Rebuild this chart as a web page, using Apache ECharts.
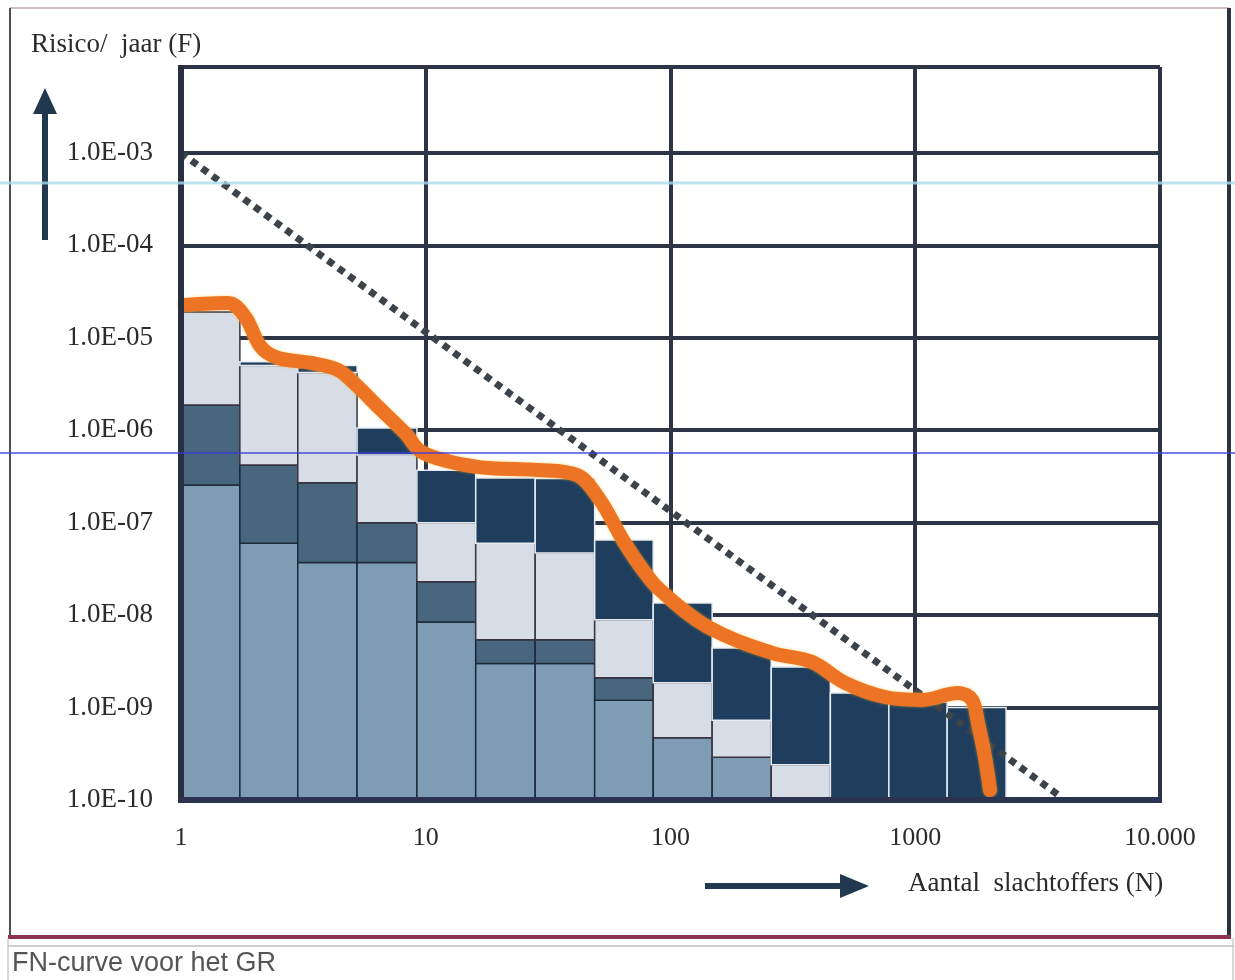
<!DOCTYPE html>
<html><head><meta charset="utf-8">
<script src="https://cdn.jsdelivr.net/npm/echarts@6/dist/echarts.min.js"></script>
<style>html,body{margin:0;padding:0;background:#fff;overflow:hidden}#c{width:1235px;height:980px}</style>
</head><body><div id="c"></div>
<script>
// ---- data ----
const binEdges = [1, 1.74, 3.0, 5.24, 9.2, 16, 28, 49, 85, 148, 258, 450, 780, 1350, 2350];
const baseF = 1e-10;
// cumulative top of each layer per bin (bottom -> top: mid blue, slate, light grey, navy)
const midTop   = [2.56e-7, 6.0e-8, 3.7e-8, 3.7e-8, 8.4e-9, 3.0e-9, 3.0e-9, 1.2e-9, 4.7e-10, 2.9e-10, 1e-10, 1e-10, 1e-10, 1e-10];
const slateTop = [1.88e-6, 4.2e-7, 2.7e-7, 1.0e-7, 2.3e-8, 5.4e-9, 5.4e-9, 2.1e-9, 4.7e-10, 2.9e-10, 1e-10, 1e-10, 1e-10, 1e-10];
const greyTop  = [1.9e-5, 5.0e-6, 4.2e-6, 5.4e-7, 1.0e-7, 6.0e-8, 4.7e-8, 8.9e-9, 1.85e-9, 7.3e-10, 2.4e-10, 1e-10, 1e-10, 1e-10];
const navyTop  = [1.9e-5, 5.5e-6, 5.0e-6, 1.06e-6, 3.7e-7, 3.05e-7, 3.0e-7, 6.5e-8, 1.35e-8, 4.4e-9, 2.75e-9, 1.44e-9, 1.15e-9, 1.0e-9];
// orange FN curve
const curveN = [1.04, 1.56, 1.83, 2.12, 2.49, 3.40, 4.38, 5.29, 6.38, 8.23, 9.75, 16.2, 28.5, 41.5, 51.5, 63.9, 77.2, 90.6, 142, 260, 379, 516, 752, 1066, 1496, 1706, 1804, 1927, 2020];
const curveF = [2.27e-5, 2.38e-5, 1.68e-5, 7.96e-6, 6.05e-6, 5.35e-6, 4.49e-6, 2.94e-6, 1.79e-6, 9.35e-7, 5.68e-7, 4.01e-7, 3.72e-7, 3.28e-7, 1.76e-7, 6.5e-8, 3.08e-8, 1.87e-8, 7.45e-9, 3.9e-9, 3.11e-9, 1.85e-9, 1.30e-9, 1.21e-9, 1.44e-9, 1.21e-9, 6.8e-10, 2.92e-10, 1.28e-10];
// dotted norm line
const limitN = [1, 3900];
const limitF = [1e-3, 1.1e-10];
// ticks
const xTickValues = [1, 10, 100, 1000, 10000];
const xTickLabels = ['1', '10', '100', '1000', '10.000'];
const yTickValues = [1e-10, 1e-9, 1e-8, 1e-7, 1e-6, 1e-5, 1e-4, 1e-3];
const yTickLabels = ['1.0E-10', '1.0E-09', '1.0E-08', '1.0E-07', '1.0E-06', '1.0E-05', '1.0E-04', '1.0E-03'];
const yMax = 0.0085;

// ---- build ----
const layerFill = ['#7f9cb5', '#48677f', '#d6dde6', '#1f3d5c'];
const layerStroke = ['#1c2a38', '#1c2a38', '#3a3440', '#e6ecf2'];
const segs = [];
for (let i = 0; i < binEdges.length - 1; i++) {
  const bounds = [baseF, midTop[i], slateTop[i], greyTop[i], navyTop[i]];
  for (let l = 0; l < 4; l++) {
    if (bounds[l + 1] > bounds[l] * 1.0001) segs.push([binEdges[i], binEdges[i + 1], bounds[l], bounds[l + 1], l]);
  }
}
function matchLabel(v, vals, labs) {
  for (let i = 0; i < vals.length; i++) if (Math.abs(Math.log10(v) - Math.log10(vals[i])) < 0.01) return labs[i];
  return '';
}
const serif = "'Liberation Serif', 'DejaVu Serif', serif";
const gridColor = '#2c3445';
const chart = echarts.init(document.getElementById('c'), null, {renderer: 'canvas'});
chart.setOption({
  animation: false,
  backgroundColor: '#ffffff',
  grid: {left: 181, right: 75, top: 67, bottom: 180, containLabel: false},
  xAxis: {
    type: 'log', logBase: 10, min: 1, max: 10000,
    axisLine: {show: false}, axisTick: {show: false},
    splitLine: {show: true, lineStyle: {color: gridColor, width: 4}},
    axisLabel: {margin: 25, fontFamily: serif, fontSize: 26, color: '#2b2b2b',
      formatter: v => matchLabel(v, xTickValues, xTickLabels)}
  },
  yAxis: {
    type: 'log', logBase: 10, min: 1e-10, max: yMax,
    axisLine: {show: false}, axisTick: {show: false},
    splitLine: {show: true, lineStyle: {color: gridColor, width: 4}},
    axisLabel: {margin: 28, fontFamily: serif, fontSize: 27, color: '#2b2b2b',
      formatter: v => matchLabel(v, yTickValues, yTickLabels)}
  },
  series: [
    {
      type: 'custom', name: 'bars', z: 3, clip: true,
      encode: {x: [0, 1], y: [2, 3]},
      data: segs,
      renderItem: function (params, api) {
        const p0 = api.coord([api.value(0), api.value(2)]);
        const p1 = api.coord([api.value(1), api.value(3)]);
        const l = api.value(4);
        return {type: 'rect', shape: {x: p0[0], y: p1[1], width: p1[0] - p0[0], height: p0[1] - p1[1]},
          style: {fill: layerFill[l], stroke: layerStroke[l], lineWidth: 1.5}};
      }
    },
    {
      type: 'line', name: 'norm', z: 4, symbol: 'none',
      data: limitN.map((n, i) => [n, limitF[i]]),
      lineStyle: {color: '#3d434b', width: 7, type: [7, 6], cap: 'butt'}
    },
    {
      type: 'line', name: 'FN', z: 5, symbol: 'none', smooth: 0.35,
      data: curveN.map((n, i) => [n, curveF[i]]),
      lineStyle: {color: '#ee7425', width: 14, cap: 'round', join: 'round',
        shadowColor: 'rgba(255,190,40,0.6)', shadowBlur: 3}
    },
    {
      type: 'custom', name: 'frame', z: 6, silent: true,
      encode: {x: [0, 2], y: [1, 3]},
      data: [[1, 1e-10, 10000, yMax]],
      renderItem: function (params, api) {
        const bl = api.coord([api.value(0), api.value(1)]);
        const tl = api.coord([api.value(0), api.value(3)]);
        const br = api.coord([api.value(2), api.value(1)]);
        return {type: 'group', children: [
          {type: 'line', shape: {x1: tl[0], y1: tl[1] - 2, x2: bl[0], y2: bl[1] + 2}, style: {stroke: '#27303f', lineWidth: 6}},
          {type: 'line', shape: {x1: bl[0] - 3, y1: bl[1], x2: br[0] + 2, y2: br[1]}, style: {stroke: '#2b3350', lineWidth: 6}}
        ]};
      }
    }
  ],
  graphic: [
    // outer border
    {type: 'line', shape: {x1: 10, y1: 8, x2: 1229, y2: 8}, style: {stroke: '#c9a3ad', lineWidth: 1.5}, z: 1},
    {type: 'line', shape: {x1: 10, y1: 8, x2: 10, y2: 936}, style: {stroke: '#4a4f58', lineWidth: 2}, z: 1},
    {type: 'line', shape: {x1: 1229, y1: 8, x2: 1229, y2: 936}, style: {stroke: '#2c3340', lineWidth: 4}, z: 1},
    {type: 'line', shape: {x1: 8, y1: 937, x2: 1231, y2: 937}, style: {stroke: '#8c3354', lineWidth: 4}, z: 1},
    {type: 'line', shape: {x1: 8, y1: 946, x2: 1233, y2: 946}, style: {stroke: '#9aa0a6', lineWidth: 1}, z: 1},
    {type: 'line', shape: {x1: 8, y1: 938, x2: 8, y2: 980}, style: {stroke: '#b0b4b8', lineWidth: 1}, z: 1},
    {type: 'line', shape: {x1: 1233, y1: 938, x2: 1233, y2: 980}, style: {stroke: '#b0b4b8', lineWidth: 1}, z: 1},
    // scan artefact lines
    {type: 'line', shape: {x1: 0, y1: 183, x2: 1235, y2: 183}, style: {stroke: 'rgba(170,220,235,0.8)', lineWidth: 3}, z: 20, silent: true},
    {type: 'line', shape: {x1: 0, y1: 453, x2: 1235, y2: 453}, style: {stroke: 'rgba(60,60,220,0.9)', lineWidth: 1.5}, z: 20, silent: true},
    // y title + arrow
    {type: 'text', left: 31, top: 31, style: {text: 'Risico/  jaar (F)', font: "27px 'Liberation Serif', serif", fill: '#2b2b2b'}, z: 10},
    {type: 'line', shape: {x1: 45, y1: 240, x2: 45, y2: 108}, style: {stroke: '#22384f', lineWidth: 6}, z: 10},
    {type: 'polygon', shape: {points: [[45, 88], [33, 114], [57, 114]]}, style: {fill: '#22384f'}, z: 10},
    // x title + arrow
    {type: 'text', left: 908, top: 870, style: {text: 'Aantal  slachtoffers (N)', font: "27px 'Liberation Serif', serif", fill: '#2b2b2b'}, z: 10},
    {type: 'line', shape: {x1: 705, y1: 886, x2: 845, y2: 886}, style: {stroke: '#22384f', lineWidth: 6}, z: 10},
    {type: 'polygon', shape: {points: [[869, 886], [840, 874], [840, 898]]}, style: {fill: '#22384f'}, z: 10},
    // caption
    {type: 'text', left: 12, top: 950, style: {text: 'FN-curve voor het GR', font: "27px 'Liberation Sans', Arial, sans-serif", fill: '#555'}, z: 10}
  ]
});
</script>
</body></html>
